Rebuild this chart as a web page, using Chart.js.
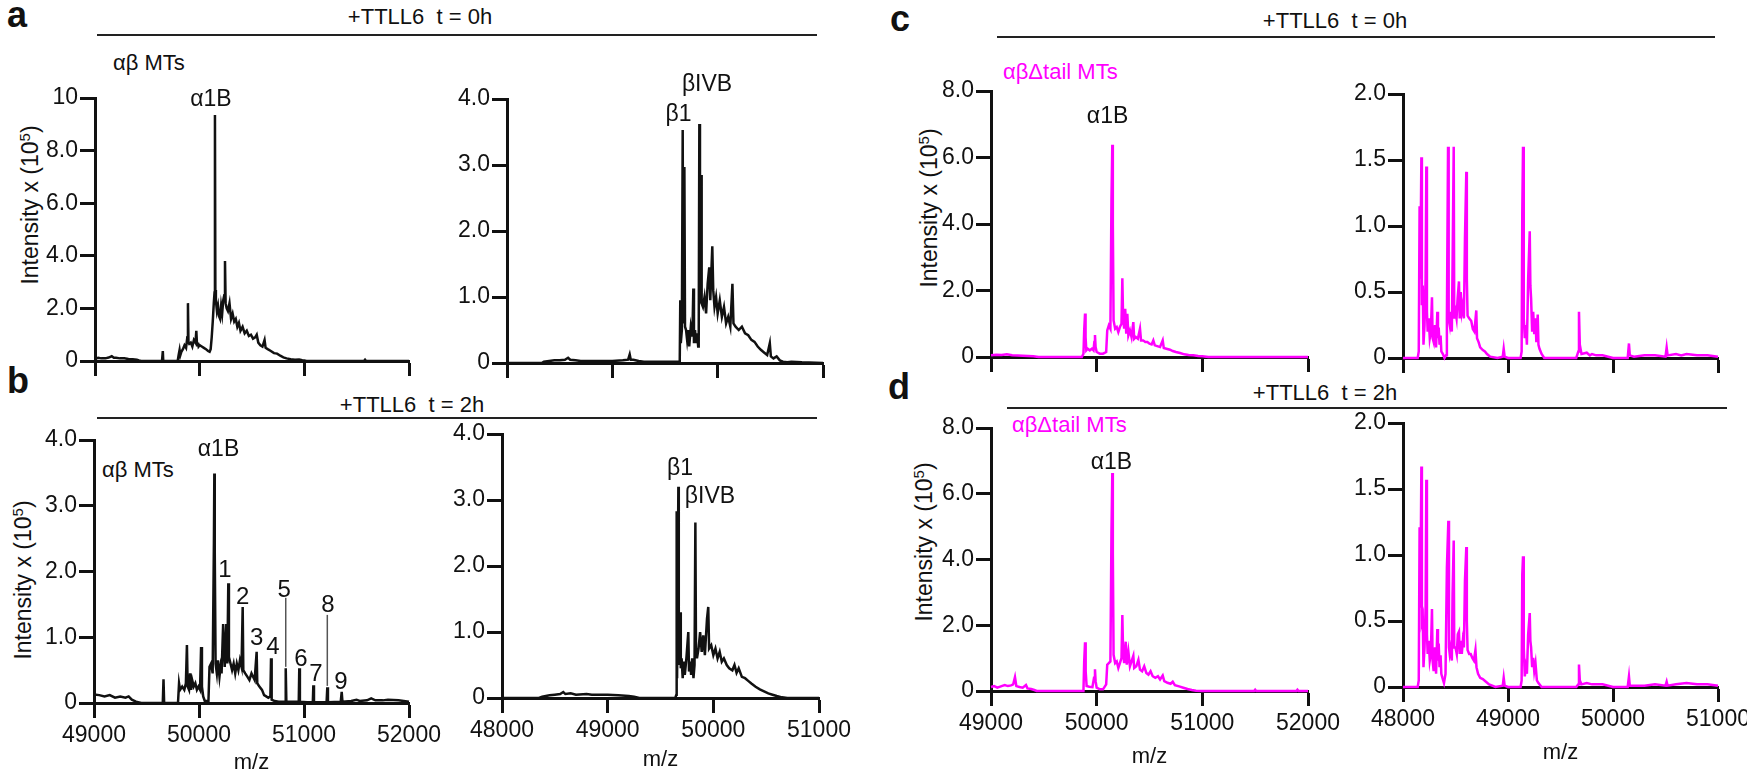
<!DOCTYPE html>
<html><head><meta charset="utf-8">
<script src="https://cdn.jsdelivr.net/npm/chart.js@4.4.0/dist/chart.umd.min.js"></script>
<style>
html,body{margin:0;padding:0;background:#fff;}
body{width:1747px;height:778px;position:relative;overflow:hidden;font-family:"Liberation Sans",Arial,sans-serif;color:#111;}
canvas{position:absolute;}
.t{position:absolute;white-space:pre;line-height:1;font-size:22px;}
.c{transform:translate(-50%,-50%);}
.l{transform:translateY(-50%);}
.let{position:absolute;font-weight:bold;font-size:36px;line-height:1;}
.hl{position:absolute;height:0;border-top:2px solid #222;}
.yt{position:absolute;transform:translate(-50%,-50%) rotate(-90deg);white-space:nowrap;font-size:23px;line-height:1;}
.yt sup{font-size:0.65em;}
.mag{color:#ff00ff;}
</style></head><body>
<div class="let" style="left:7px;top:-3px">a</div>
<div class="let" style="left:7px;top:363px">b</div>
<div class="let" style="left:890px;top:1px">c</div>
<div class="let" style="left:888px;top:369px">d</div>

<div class="t c" style="left:420px;top:17px">+TTLL6  t = 0h</div>
<div class="hl" style="left:97px;width:720px;top:34px"></div>
<div class="t c" style="left:412px;top:405px">+TTLL6  t = 2h</div>
<div class="hl" style="left:97px;width:720px;top:417px"></div>
<div class="t c" style="left:1335px;top:21px">+TTLL6  t = 0h</div>
<div class="hl" style="left:997px;width:718px;top:36px"></div>
<div class="t c" style="left:1325px;top:393px">+TTLL6  t = 2h</div>
<div class="hl" style="left:1007px;width:720px;top:407px"></div>

<div class="t l" style="left:113px;top:63px">αβ MTs</div>
<div class="t l" style="left:102px;top:470px">αβ MTs</div>
<div class="t l mag" style="left:1003px;top:72px">αβΔtail MTs</div>
<div class="t l mag" style="left:1012px;top:425px">αβΔtail MTs</div>

<div class="yt" style="left:30px;top:205px">Intensity x (10<sup>5</sup>)</div>
<div class="yt" style="left:23px;top:580px">Intensity x (10<sup>5</sup>)</div>
<div class="yt" style="left:929px;top:208px">Intensity x (10<sup>5</sup>)</div>
<div class="yt" style="left:924px;top:542px">Intensity x (10<sup>5</sup>)</div>

<script>
// ---------- tick labels ----------
const xTicksAlpha = [49000, 50000, 51000, 52000];
const xTickLabelsAlpha = ['49000', '50000', '51000', '52000'];
const xTicksBeta = [48000, 49000, 50000, 51000];
const xTickLabelsBeta = ['48000', '49000', '50000', '51000'];
const yTicks10 = [0, 2, 4, 6, 8, 10];
const yTickLabels10 = ['0', '2.0', '4.0', '6.0', '8.0', '10'];
const yTicks4 = [0, 1, 2, 3, 4];
const yTickLabels4 = ['0', '1.0', '2.0', '3.0', '4.0'];
const yTicks8 = [0, 2, 4, 6, 8];
const yTickLabels8 = ['0', '2.0', '4.0', '6.0', '8.0'];
const yTicks2 = [0, 0.5, 1, 1.5, 2];
const yTickLabels2 = ['0', '0.5', '1.0', '1.5', '2.0'];

// ---------- spectra: [m/z, intensity x 10^5] ----------
const specA_alpha = [[49000,0.08],[49030,0.12],[49060,0.1],[49100,0.1],[49130,0.13],[49160,0.18],[49180,0.12],[49200,0.12],[49240,0.1],[49280,0.1],[49320,0.08],[49360,0.07],[49400,0.05],[49420,0.02],[49440,0],[49640,0],[49648,0.38],[49652,0.02],[49660,0],[49790,0],[49800,0.25],[49808,0.42],[49815,0.22],[49825,0.35],[49840,0.45],[49855,0.6],[49870,0.5],[49882,0.9],[49888,2.2],[49893,0.7],[49900,0.65],[49915,0.7],[49930,0.55],[49945,0.8],[49960,0.7],[49968,1.15],[49975,0.6],[49984,0.7],[49990,0.55],[50000,0.6],[50020,0.55],[50040,0.5],[50060,0.45],[50080,0.38],[50095,0.35],[50105,0.45],[50115,0.9],[50125,1.5],[50135,2.2],[50142,2.6],[50146,9.35],[50150,2.7],[50155,2.3],[50165,1.9],[50175,2.1],[50185,1.7],[50195,1.6],[50205,2.1],[50215,1.8],[50225,2.3],[50235,2.5],[50242,3.8],[50248,2.2],[50258,2.0],[50270,1.9],[50285,2.2],[50300,1.6],[50315,1.8],[50330,1.5],[50345,1.6],[50360,1.3],[50375,1.45],[50390,1.15],[50410,1.3],[50430,1.05],[50450,1.15],[50470,0.95],[50490,1.0],[50510,0.85],[50530,0.9],[50545,1.0],[50560,0.7],[50580,0.6],[50600,0.55],[50620,0.8],[50630,0.5],[50650,0.45],[50680,0.38],[50710,0.3],[50740,0.28],[50770,0.2],[50800,0.14],[50830,0.1],[50870,0.07],[50910,0.05],[50950,0.06],[50980,0.03],[51000,0.02],[51020,0],[51570,0],[51580,0.05],[51590,0],[52000,0]];

const specA_beta = [[48000,0],[48330,0],[48350,0.02],[48400,0.03],[48450,0.04],[48500,0.04],[48550,0.05],[48580,0.08],[48600,0.05],[48650,0.04],[48700,0.03],[48800,0.03],[48900,0.03],[49000,0.03],[49100,0.04],[49150,0.05],[49165,0.13],[49175,0.05],[49200,0.05],[49250,0.03],[49300,0.02],[49350,0.02],[49600,0.02],[49640,0.02],[49645,0.95],[49650,0.3],[49660,0.5],[49668,3.53],[49673,0.6],[49684,2.97],[49690,0.55],[49700,0.5],[49710,0.35],[49720,0.5],[49730,0.25],[49745,0.55],[49760,0.4],[49769,1.13],[49775,0.3],[49785,0.5],[49795,0.3],[49805,0.45],[49815,0.25],[49820,0.3],[49826,3.62],[49832,0.9],[49842,2.85],[49848,0.9],[49860,0.85],[49875,1.0],[49890,0.75],[49905,1.2],[49920,1.45],[49930,0.95],[49949,1.77],[49958,1.1],[49970,0.85],[49985,1.0],[50000,0.75],[50020,0.95],[50040,0.7],[50060,0.85],[50080,0.6],[50100,0.7],[50120,0.55],[50140,1.2],[50150,0.6],[50170,0.55],[50200,0.5],[50230,0.55],[50260,0.45],[50290,0.42],[50320,0.35],[50350,0.32],[50380,0.25],[50410,0.2],[50440,0.16],[50470,0.12],[50495,0.3],[50505,0.1],[50530,0.07],[50560,0.1],[50590,0.04],[50620,0.02],[50660,0.01],[50700,0.02],[50800,0.01],[51000,0]];

const specB_alpha = [[49000,0.13],[49050,0.12],[49100,0.1],[49150,0.12],[49200,0.08],[49250,0.1],[49300,0.08],[49330,0.1],[49360,0.05],[49400,0.02],[49450,0],[49655,0],[49662,0.36],[49668,0],[49800,0],[49810,0.3],[49820,0.2],[49840,0.25],[49860,0.2],[49875,0.3],[49885,0.88],[49892,0.25],[49905,0.2],[49915,0.45],[49925,0.2],[49935,0.35],[49950,0.25],[49965,0.3],[49980,0.2],[49995,0.25],[50010,0.2],[50020,0.85],[50028,0.25],[50040,0.1],[50055,0.03],[50090,0.03],[50100,0.55],[50115,0.6],[50130,0.45],[50142,2.43],[50146,3.49],[50150,2.3],[50158,0.6],[50170,0.45],[50180,0.65],[50195,0.4],[50205,0.55],[50215,0.45],[50230,1.2],[50245,0.55],[50260,1.2],[50270,0.6],[50279,1.82],[50285,0.7],[50300,0.6],[50315,0.5],[50330,0.6],[50345,0.45],[50360,0.6],[50375,0.5],[50390,0.65],[50405,0.55],[50416,1.46],[50422,0.5],[50440,0.45],[50460,0.4],[50480,0.35],[50500,0.45],[50515,0.4],[50530,0.35],[50549,0.78],[50555,0.3],[50575,0.25],[50600,0.2],[50620,0.12],[50640,0.1],[50660,0.08],[50680,0.1],[50686,0.68],[50692,0.05],[50720,0.03],[50760,0.02],[50820,0.02],[50826,0.53],[50832,0.02],[50900,0.02],[50950,0.02],[50955,0.53],[50961,0.02],[51030,0.01],[51084,0.01],[51089,0.27],[51095,0.01],[51215,0.01],[51222,0.24],[51228,0.01],[51350,0.02],[51359,0.17],[51366,0.02],[51450,0.03],[51500,0.05],[51530,0.03],[51600,0.04],[51640,0.07],[51680,0.04],[51750,0.04],[51800,0.05],[51900,0.04],[52000,0.02]];

const specB_beta = [[48000,0],[48350,0],[48380,0.02],[48450,0.04],[48500,0.05],[48550,0.06],[48580,0.09],[48600,0.06],[48650,0.07],[48700,0.05],[48800,0.06],[48850,0.05],[48900,0.05],[49000,0.05],[49100,0.04],[49200,0.03],[49250,0.02],[49300,0],[49640,0],[49650,0.05],[49653,2.83],[49657,0.3],[49669,3.2],[49673,1.25],[49678,0.5],[49685,1.3],[49692,0.45],[49700,0.6],[49710,0.3],[49720,0.55],[49730,0.35],[49745,0.6],[49763,1.0],[49770,0.4],[49780,0.55],[49790,0.35],[49800,0.6],[49812,0.3],[49822,0.5],[49830,2.66],[49836,0.7],[49845,0.6],[49860,0.75],[49875,1.0],[49890,0.7],[49905,0.95],[49920,0.65],[49940,1.2],[49952,1.38],[49960,0.75],[49980,0.8],[50000,0.65],[50020,0.75],[50040,0.6],[50060,0.7],[50080,0.55],[50100,0.6],[50127,0.5],[50150,0.45],[50180,0.42],[50200,0.5],[50220,0.38],[50240,0.45],[50270,0.32],[50300,0.3],[50330,0.26],[50360,0.22],[50400,0.17],[50440,0.13],[50480,0.1],[50520,0.07],[50560,0.05],[50600,0.03],[50650,0.01],[50700,0],[51000,0]];

const specC_alpha = [[49000,0.05],[49050,0.07],[49100,0.06],[49150,0.08],[49200,0.05],[49300,0.04],[49400,0.02],[49450,0],[49860,0],[49875,0.1],[49882,0.8],[49890,1.31],[49895,0.6],[49902,0.2],[49915,0.25],[49935,0.2],[49955,0.25],[49970,0.2],[49978,0.45],[49984,0.66],[49990,0.3],[50000,0.15],[50030,0.1],[50060,0.1],[50090,0.15],[50100,0.8],[50115,0.95],[50130,0.85],[50140,4.7],[50148,6.38],[50153,4.0],[50160,1.1],[50175,0.85],[50190,0.9],[50205,0.75],[50220,0.9],[50235,1.0],[50243,2.37],[50250,1.2],[50260,0.85],[50270,1.45],[50280,0.7],[50290,1.3],[50300,0.65],[50315,0.8],[50330,0.6],[50347,1.05],[50355,0.55],[50370,0.6],[50390,0.55],[50410,0.85],[50420,0.5],[50440,0.5],[50460,0.45],[50480,0.45],[50500,0.4],[50520,0.38],[50536,0.5],[50550,0.35],[50580,0.32],[50600,0.3],[50625,0.5],[50635,0.27],[50660,0.25],[50694,0.22],[50720,0.18],[50750,0.15],[50789,0.12],[50830,0.08],[50870,0.06],[50915,0.05],[50960,0.03],[51000,0.02],[51057,0],[52000,0]];

const specC_beta = [[48000,0],[48140,0],[48150,0.05],[48158,1.15],[48165,0.6],[48175,1.52],[48180,0.4],[48188,0.55],[48195,0.1],[48205,0.25],[48215,0.6],[48222,1.45],[48228,0.35],[48235,0.2],[48245,0.3],[48255,0.15],[48265,0.2],[48276,0.46],[48282,0.15],[48292,0.12],[48305,0.25],[48315,0.08],[48327,0.35],[48333,0.15],[48340,0.23],[48348,0.1],[48358,0.17],[48365,0.05],[48380,0.03],[48395,0],[48410,0.02],[48418,0.3],[48429,1.6],[48435,0.3],[48445,0.25],[48455,0.35],[48465,0.2],[48472,0.7],[48483,1.6],[48488,0.3],[48500,0.35],[48510,0.3],[48520,0.45],[48533,0.58],[48540,0.3],[48550,0.5],[48560,0.35],[48570,0.4],[48580,0.3],[48590,0.9],[48603,1.41],[48608,0.6],[48615,0.32],[48630,0.3],[48650,0.28],[48665,0.22],[48680,0.2],[48698,0.36],[48705,0.15],[48720,0.12],[48735,0.08],[48760,0.06],[48780,0.05],[48800,0.03],[48830,0.01],[48900,0],[48950,0.01],[48959,0.07],[48968,0.01],[49000,0],[49120,0],[49130,0.05],[49136,1.1],[49143,1.6],[49150,0.3],[49160,0.15],[49170,0.25],[49180,0.1],[49192,0.6],[49207,0.96],[49213,0.55],[49220,0.45],[49230,0.2],[49240,0.35],[49250,0.18],[49262,0.3],[49270,0.12],[49283,0.33],[49290,0.1],[49300,0.07],[49320,0.03],[49345,0],[49650,0],[49670,0.05],[49676,0.35],[49684,0.1],[49700,0.03],[49750,0.04],[49780,0.02],[49800,0.03],[49840,0.02],[49900,0.02],[50000,0],[50140,0],[50152,0.11],[50160,0.02],[50200,0.01],[50300,0.02],[50400,0.02],[50500,0.01],[50511,0.08],[50520,0.02],[50600,0.03],[50650,0.02],[50700,0.03],[50800,0.02],[50900,0.02],[51000,0.01]];

const specD_alpha = [[49000,0.12],[49030,0.15],[49060,0.1],[49100,0.15],[49130,0.18],[49160,0.15],[49190,0.17],[49210,0.2],[49227,0.42],[49240,0.15],[49270,0.12],[49300,0.1],[49331,0.18],[49345,0.08],[49380,0.06],[49410,0.03],[49432,0],[49875,0],[49882,0.9],[49890,1.48],[49896,0.6],[49905,0.15],[49930,0.13],[49960,0.12],[49975,0.4],[49984,0.66],[49990,0.3],[50000,0.1],[50030,0.05],[50060,0.05],[50090,0.2],[50100,0.8],[50115,0.85],[50130,0.9],[50140,4.8],[50148,6.63],[50153,4.2],[50160,1.1],[50175,0.85],[50190,0.9],[50205,0.7],[50220,0.85],[50235,1.0],[50243,2.31],[50250,1.2],[50260,0.85],[50275,1.5],[50285,0.8],[50300,1.2],[50315,0.75],[50330,0.9],[50347,1.07],[50355,0.7],[50375,0.75],[50395,0.95],[50410,0.65],[50430,0.6],[50450,0.75],[50470,0.55],[50490,0.5],[50510,0.6],[50530,0.45],[50555,0.4],[50580,0.45],[50600,0.35],[50625,0.47],[50640,0.3],[50670,0.25],[50700,0.22],[50720,0.28],[50740,0.18],[50780,0.14],[50820,0.1],[50860,0.06],[50900,0.03],[50940,0.01],[51000,0],[51490,0],[51500,0.04],[51510,0],[51890,0],[51900,0.04],[51910,0],[52000,0]];

const specD_beta = [[48000,0],[48140,0],[48150,0.05],[48158,1.21],[48165,0.6],[48175,1.67],[48180,0.5],[48188,0.53],[48195,0.15],[48205,0.3],[48215,0.6],[48222,1.57],[48228,0.4],[48235,0.25],[48245,0.35],[48255,0.2],[48265,0.25],[48276,0.59],[48282,0.2],[48292,0.12],[48305,0.3],[48315,0.1],[48327,0.44],[48333,0.2],[48340,0.33],[48348,0.15],[48358,0.24],[48365,0.1],[48375,0.07],[48390,0.03],[48405,0.1],[48418,0.9],[48432,1.26],[48438,0.3],[48445,0.25],[48455,0.3],[48465,0.2],[48472,0.7],[48483,1.11],[48488,0.3],[48500,0.3],[48512,0.25],[48522,0.4],[48533,0.42],[48540,0.25],[48550,0.35],[48560,0.25],[48570,0.35],[48580,0.3],[48590,0.8],[48603,1.06],[48608,0.5],[48615,0.28],[48630,0.25],[48645,0.25],[48660,0.22],[48675,0.2],[48690,0.28],[48700,0.15],[48715,0.1],[48735,0.07],[48760,0.06],[48790,0.04],[48820,0.02],[48880,0],[48950,0.01],[48959,0.07],[48968,0.01],[49000,0],[49120,0],[49130,0.05],[49136,0.85],[49143,0.99],[49150,0.3],[49160,0.08],[49170,0.15],[49180,0.1],[49192,0.4],[49207,0.56],[49213,0.35],[49220,0.3],[49230,0.15],[49240,0.22],[49250,0.12],[49262,0.18],[49275,0.05],[49290,0.03],[49320,0],[49650,0],[49670,0.02],[49676,0.17],[49684,0.05],[49700,0.02],[49750,0.03],[49800,0.02],[49850,0.02],[49900,0.02],[50000,0],[50140,0],[50152,0.08],[50160,0.01],[50300,0.01],[50400,0.02],[50500,0.01],[50511,0.04],[50520,0.01],[50600,0.02],[50700,0.03],[50800,0.02],[50900,0.02],[51000,0.01]];

// ---------- peak annotations (data coordinates) ----------
const peaksA_alpha = [{mz:50108, v:9.92, text:'α1B'}];
const peaksA_beta = [{mz:49899, v:4.21, text:'βIVB'}, {mz:49628, v:3.76, text:'β1'}];
const peaksB_alpha = [{mz:50186, v:3.85, text:'α1B'},
  {mz:50248, v:2.02, text:'1', size:24}, {mz:50416, v:1.61, text:'2', size:24},
  {mz:50549, v:0.99, text:'3', size:24}, {mz:50705, v:0.84, text:'4', size:24},
  {mz:50810, v:1.72, text:'5', size:24}, {mz:50971, v:0.67, text:'6', size:24},
  {mz:51114, v:0.43, text:'7', size:24}, {mz:51229, v:1.49, text:'8', size:24},
  {mz:51352, v:0.32, text:'9', size:24}];
const leadersB_alpha = [{mz:50826, from:0.55, to:1.6}, {mz:51222, from:0.26, to:1.34}];
const peaksB_beta = [{mz:49685, v:3.48, text:'β1'}, {mz:49968, v:3.05, text:'βIVB'}];
const peaksC_alpha = [{mz:50103, v:7.22, text:'α1B'}];
const peaksD_alpha = [{mz:50140, v:6.96, text:'α1B'}];

const BLACK = '#111111', MAGENTA = '#ff00ff';
const PT = 30, PR = 36, YW = 62;
const FONT = '"Liberation Sans", Arial, sans-serif';

function makePanel(p) {
  const cv = document.createElement('canvas');
  const w = YW + (p.xr - p.xl) + PR, h = PT + (p.yb - p.yt) + p.xh;
  cv.width = w; cv.height = h;
  cv.style.left = (p.xl - YW) + 'px'; cv.style.top = (p.yt - PT) + 'px';
  cv.style.width = w + 'px'; cv.style.height = h + 'px';
  document.body.appendChild(cv);
  const annot = {
    id: 'annot',
    afterDraw(chart) {
      const ctx = chart.ctx, xs = chart.scales.x, ys = chart.scales.y;
      ctx.save();
      (p.leaders || []).forEach(l => {
        const x = xs.getPixelForValue(l.mz);
        ctx.strokeStyle = '#555'; ctx.lineWidth = 1.5;
        ctx.beginPath(); ctx.moveTo(x, ys.getPixelForValue(l.from)); ctx.lineTo(x, ys.getPixelForValue(l.to)); ctx.stroke();
      });
      ctx.fillStyle = BLACK; ctx.textAlign = 'center'; ctx.textBaseline = 'middle';
      (p.peaks || []).forEach(k => {
        ctx.font = (k.size || 23) + 'px ' + FONT;
        ctx.fillText(k.text, xs.getPixelForValue(k.mz), ys.getPixelForValue(k.v));
      });
      ctx.restore();
    }
  };
  const axisCommon = {
    grid: {drawOnChartArea: false, drawTicks: true, tickLength: 15, tickWidth: 3, tickColor: BLACK},
    border: {display: true, width: 3, color: BLACK}
  };
  new Chart(cv, {
    type: 'line',
    data: {datasets: [{
      data: p.spec.map(([x, y]) => ({x, y})),
      borderColor: p.color, borderWidth: 2.5, pointRadius: 0, tension: 0, fill: false, clip: 3
    }]},
    options: {
      responsive: false, animation: false, devicePixelRatio: 1,
      layout: {padding: {top: PT, right: PR, left: 0, bottom: 0}},
      plugins: {legend: {display: false}, tooltip: {enabled: false}},
      scales: {
        x: Object.assign({
          type: 'linear', min: p.xTicks[0], max: p.xTicks[p.xTicks.length - 1],
          afterBuildTicks: s => { s.ticks = p.xTicks.map(v => ({value: v})); },
          afterFit: s => { s.height = p.xh; },
          ticks: {callback: (v, i) => p.showX ? p.xLabels[i] : '', font: {family: FONT, size: 23}, color: BLACK, padding: p.xpad || 4, maxRotation: 0, autoSkip: false},
          title: {display: !!p.showX, text: 'm/z', font: {family: FONT, size: 22}, color: BLACK, padding: 0}
        }, axisCommon),
        y: Object.assign({
          type: 'linear', min: p.yTicks[0], max: p.yTicks[p.yTicks.length - 1],
          afterBuildTicks: s => { s.ticks = p.yTicks.map(v => ({value: v})); },
          afterFit: s => { s.width = YW; },
          ticks: {callback: (v, i) => p.yLabels[i], font: {family: FONT, size: 23}, color: BLACK, padding: 2, autoSkip: false}
        }, axisCommon)
      }
    },
    plugins: [annot]
  });
}

makePanel({xl:95, xr:409, yt:98, yb:361, xh:20, spec:specA_alpha, color:BLACK, xTicks:xTicksAlpha, xLabels:xTickLabelsAlpha, yTicks:yTicks10, yLabels:yTickLabels10, peaks:peaksA_alpha});
makePanel({xl:507, xr:823, yt:99, yb:363, xh:20, spec:specA_beta, color:BLACK, xTicks:xTicksBeta, xLabels:xTickLabelsBeta, yTicks:yTicks4, yLabels:yTickLabels4, peaks:peaksA_beta});
makePanel({xl:94, xr:409, yt:440, yb:703, xh:73, showX:true, spec:specB_alpha, color:BLACK, xTicks:xTicksAlpha, xLabels:xTickLabelsAlpha, yTicks:yTicks4, yLabels:yTickLabels4, peaks:peaksB_alpha, leaders:leadersB_alpha});
makePanel({xl:502, xr:819, yt:434, yb:698, xh:75, showX:true, spec:specB_beta, color:BLACK, xTicks:xTicksBeta, xLabels:xTickLabelsBeta, yTicks:yTicks4, yLabels:yTickLabels4, peaks:peaksB_beta});
makePanel({xl:991, xr:1308, yt:91, yb:357, xh:20, spec:specC_alpha, color:MAGENTA, xTicks:xTicksAlpha, xLabels:xTickLabelsAlpha, yTicks:yTicks8, yLabels:yTickLabels8, peaks:peaksC_alpha});
makePanel({xl:1403, xr:1718, yt:94, yb:358, xh:20, spec:specC_beta, color:MAGENTA, xTicks:xTicksBeta, xLabels:xTickLabelsBeta, yTicks:yTicks2, yLabels:yTickLabels2});
makePanel({xl:991, xr:1308, yt:428, yb:691, xh:79, showX:true, spec:specD_alpha, color:MAGENTA, xTicks:xTicksAlpha, xLabels:xTickLabelsAlpha, yTicks:yTicks8, yLabels:yTickLabels8, peaks:peaksD_alpha});
makePanel({xl:1403, xr:1718, yt:423, yb:687, xh:79, showX:true, spec:specD_beta, color:MAGENTA, xTicks:xTicksBeta, xLabels:xTickLabelsBeta, yTicks:yTicks2, yLabels:yTickLabels2});
</script>
</body></html>
